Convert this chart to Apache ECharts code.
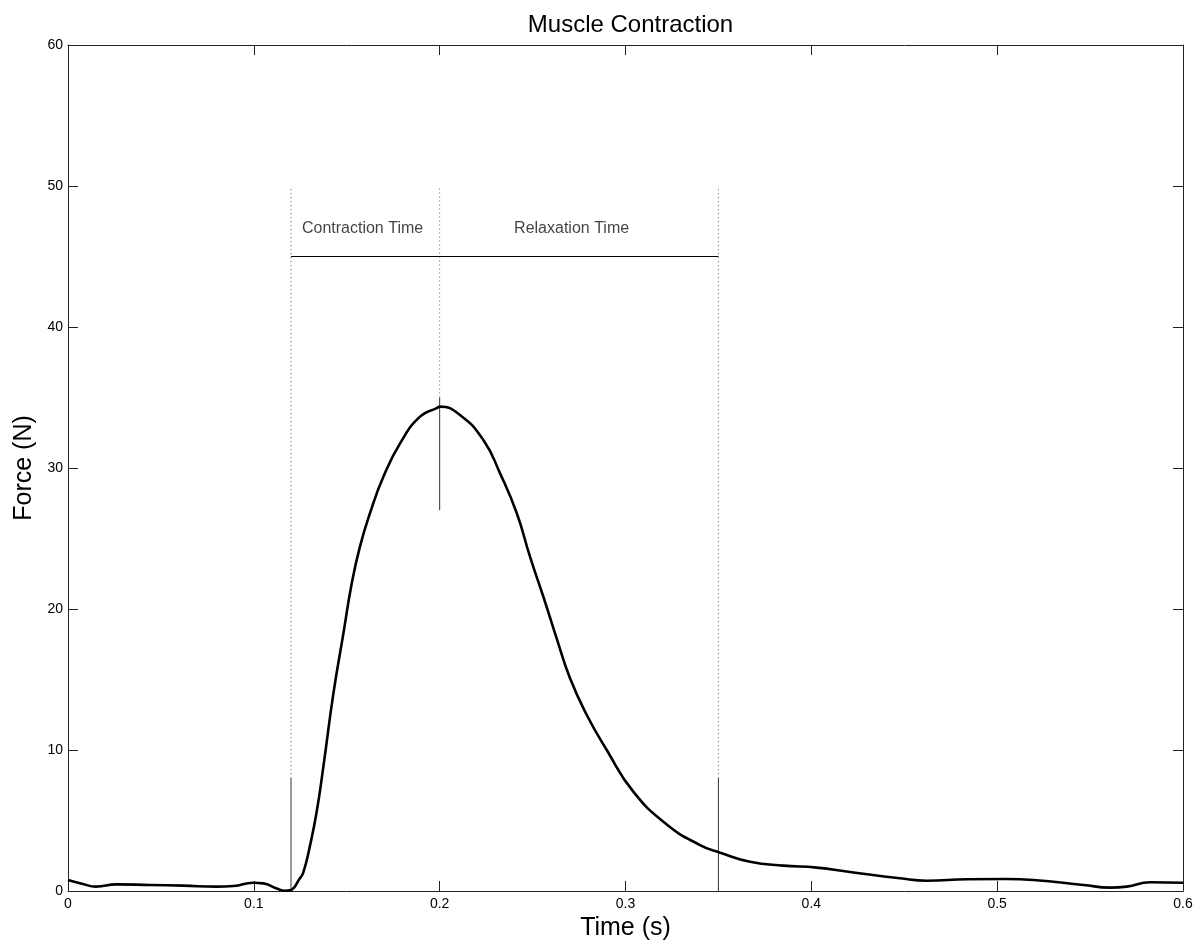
<!DOCTYPE html>
<html>
<head>
<meta charset="utf-8">
<script src="https://cdn.jsdelivr.net/npm/echarts@6/dist/echarts.min.js"></script>
<style>
html,body{margin:0;padding:0;background:#fff;}
#chart{width:1197px;height:947px;}
</style>
</head>
<body>
<div id="chart"></div>
<script>
// ---- Data ----
const time = [0, 0.008, 0.015, 0.026, 0.044, 0.062, 0.08, 0.089, 0.0997, 0.1051, 0.1123, 0.1168, 0.1195,
  0.1248, 0.1266, 0.1302, 0.1338, 0.1374, 0.1428, 0.1482, 0.1527, 0.1571, 0.1625, 0.1697, 0.1787, 0.1894,
  0.1984, 0.2002, 0.2109, 0.2235, 0.2325, 0.2415, 0.2486, 0.2558, 0.263, 0.2701, 0.2791, 0.2899, 0.3042,
  0.3222, 0.3401, 0.3509, 0.367, 0.3849, 0.4029, 0.4208, 0.4477, 0.4621, 0.4836, 0.5051, 0.5195, 0.5464,
  0.5607, 0.5697, 0.5823, 0.6];
const force = [0.78, 0.5, 0.31, 0.47, 0.43, 0.38, 0.31, 0.35, 0.59, 0.54, 0.18, 0.02, 0.05,
  0.9, 1.3, 3.2, 5.6, 8.8, 14.0, 18.27, 21.82, 24.42, 26.79, 29.38, 31.75, 33.64,
  34.25, 34.35, 33.76, 31.99, 29.62, 26.79, 23.71, 20.87, 17.9, 15.1, 12.5, 10.0, 7.05,
  4.72, 3.26, 2.72, 2.08, 1.8, 1.66, 1.35, 0.9, 0.73, 0.83, 0.85, 0.78, 0.43,
  0.24, 0.31, 0.62, 0.59];

const markerTimes = [0.12, 0.2, 0.35];
const solidLow = [0, 27, 0];
const solidHigh = [8, 35, 8];
const dottedLow = [8, 35, 8];
const dottedTop = 50;
const spanStart = 0.12;
const spanEnd = 0.35;
const spanLevel = 45;
const labelTexts = ['Contraction Time', 'Relaxation Time'];
const labelTimes = [0.1585, 0.271];
const labelLevel = 47;

const xTicks = [0, 0.1, 0.2, 0.3, 0.4, 0.5, 0.6];
const yTicks = [0, 10, 20, 30, 40, 50, 60];

// ---- Chart ----
const FONT = 'Liberation Sans, Arial, Helvetica, sans-serif';
const chart = echarts.init(document.getElementById('chart'), null, {renderer: 'canvas'});

const series = [];
series.push({
  type: 'line',
  data: time.map((t, i) => [t, force[i]]),
  smooth: 0.5,
  showSymbol: false,
  symbol: 'none',
  lineStyle: {color: '#000', width: 2.6},
  z: 5,
  silent: true
});
markerTimes.forEach((t, i) => {
  series.push({
    type: 'line', symbol: 'none', silent: true, z: 4,
    data: [[t, solidLow[i]], [t, solidHigh[i]]],
    lineStyle: {color: '#333', width: 1, type: 'solid'}
  });
  series.push({
    type: 'line', symbol: 'none', silent: true, z: 3,
    data: [[t, dottedLow[i]], [t, dottedTop]],
    lineStyle: {color: '#555', width: 1, type: [1, 3]}
  });
});
series.push({
  type: 'line', symbol: 'none', silent: true, z: 4,
  data: [[spanStart, spanLevel], [spanEnd, spanLevel]],
  lineStyle: {color: '#000', width: 1}
});
series.push({
  type: 'scatter', symbolSize: 0, silent: true,
  data: labelTexts.map((s, i) => ({value: [labelTimes[i], labelLevel], name: s})),
  label: {
    show: true, position: 'inside', formatter: p => p.name,
    color: '#111', fontSize: 16, fontFamily: FONT
  }
});

const axisCommon = {
  type: 'value',
  splitLine: {show: false},
  axisLine: {show: true, onZero: false, lineStyle: {color: '#222', width: 1}},
  axisTick: {show: true, inside: true, length: 10, lineStyle: {color: '#222'}},
};

chart.setOption({
  animation: false,
  backgroundColor: '#fff',
  title: {
    text: 'Muscle Contraction',
    left: 625.5, top: 8, textAlign: 'center',
    textStyle: {fontFamily: FONT, fontSize: 24, fontWeight: 'normal', color: '#000'}
  },
  grid: {left: 68, right: 14, top: 45, bottom: 56, containLabel: false},
  xAxis: [
    Object.assign({}, axisCommon, {
      min: xTicks[0], max: xTicks[xTicks.length - 1], interval: 0.1, position: 'bottom',
      axisLabel: {color: '#000', fontSize: 14, fontFamily: FONT, margin: 6,
        formatter: v => String(Math.round(v * 10) / 10)},
      name: 'Time (s)', nameLocation: 'middle', nameGap: 22,
      nameTextStyle: {fontFamily: FONT, fontSize: 25, color: '#000', verticalAlign: 'top'}
    }),
    Object.assign({}, axisCommon, {
      min: xTicks[0], max: xTicks[xTicks.length - 1], interval: 0.1, position: 'top',
      axisLabel: {show: false}
    })
  ],
  yAxis: [
    Object.assign({}, axisCommon, {
      min: yTicks[0], max: yTicks[yTicks.length - 1], interval: 10, position: 'left',
      axisLabel: {color: '#000', fontSize: 14, fontFamily: FONT, margin: 5},
      name: 'Force (N)', nameLocation: 'middle', nameGap: 26,
      nameTextStyle: {fontFamily: FONT, fontSize: 25, color: '#000'}
    }),
    Object.assign({}, axisCommon, {
      min: yTicks[0], max: yTicks[yTicks.length - 1], interval: 10, position: 'right',
      axisLabel: {show: false}
    })
  ],
  series: series
});
</script>
</body>
</html>
